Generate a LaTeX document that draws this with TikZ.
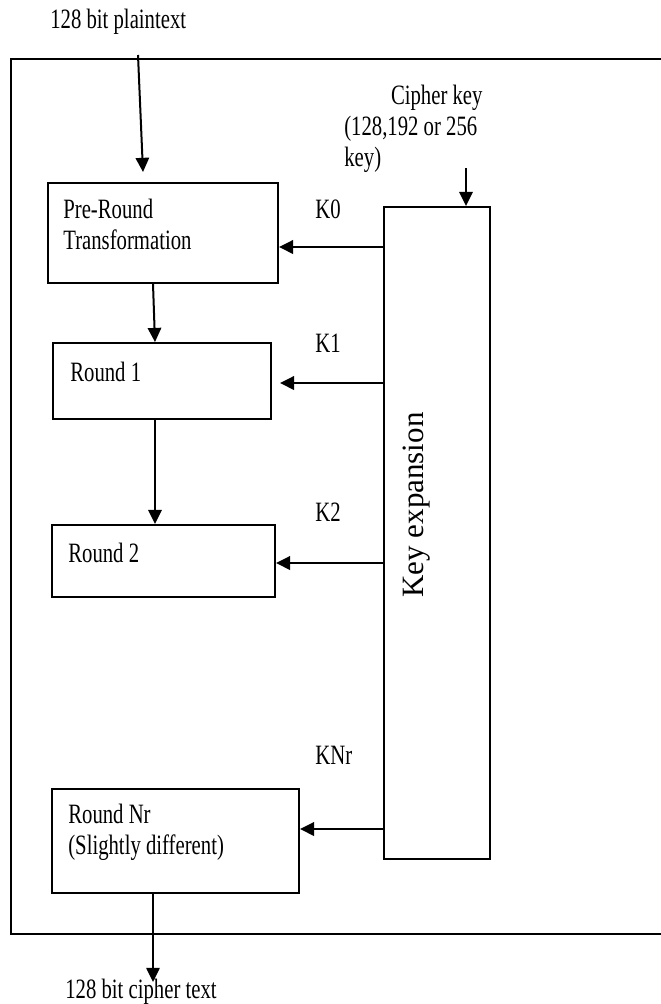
\documentclass[tikz,border=0pt]{standalone}
\usepackage{fontspec}
\setmainfont{Liberation Serif}[FakeStretch=0.74]
\newfontfamily\keyfont{Liberation Serif}
\usetikzlibrary{arrows.meta, positioning, calc, fit}

\begin{document}
\begin{tikzpicture}[x=0.6pt, y=-0.6pt,
    font=\fontsize{16.8}{18.5}\selectfont,
    blk/.style={draw, line width=1.1pt, inner sep=0pt},
    lbl/.style={anchor=west, align=left, inner sep=0pt},
    flow/.style={line width=1.2pt, -{Triangle[length=8.5pt,width=8pt]}},
    keyflow/.style={line width=1.6pt, -{Triangle[length=8.5pt,width=8pt]}}]
  \useasboundingbox (0,0) rectangle (661,1004);
  % Outer frame (right side runs off the page)
  \draw[line width=1.1pt] (661,59) -- (11,59) -- (11,934) -- (661,934);
  % Blocks
  \node[blk, fit={(48,183) (278,283)}] (pre) {};
  \node[blk, fit={(53,343) (271,419)}] (r1) {};
  \node[blk, fit={(52,525) (275,597)}] (r2) {};
  \node[blk, fit={(52,789) (299,893)}] (rnr) {};
  \node[blk, fit={(384,207) (490,859)}] (keyexp) {};
  % Block texts
  \node[lbl] (pretxt) at (63,224) {Pre-Round\\Transformation};
  \node[lbl] (r1txt) at (70,372) {Round 1};
  \node[lbl] (r2txt) at (68,553) {Round 2};
  \node[lbl] (rnrtxt) at (68,832) {Round Nr\\(Slightly different)};
  \node[rotate=90, font=\keyfont\fontsize{18.6}{22}\selectfont] (keytxt)
    at (417,505) {Key expansion};
  % Inputs and outputs
  \node[lbl] (plain) at (50,22) {128 bit plaintext};
  \node[lbl] (ctext) at (65,992) {128 bit cipher text};
  \node[lbl] (ckey) at (344,129) {\hspace*{28pt}Cipher key\\(128,192 or 256\\key)};
  \coordinate (ptin) at (138,55);
  \coordinate (ptout) at (143,172);
  \coordinate (keyin) at (466,168);
  \coordinate (ctout) at (153,982);
  \draw[flow] (ptin) -- (ptout);
  \draw[flow] (keyin) -- (keyin |- keyexp.north);
  \draw[flow] ([xshift=-6pt]pre.south) -- ([xshift=-4.2pt]r1.north);
  \draw[flow] ([xshift=-4.2pt]r1.south) -- ([xshift=-5.1pt]r2.north);
  \draw[flow] (ctout |- rnr.south) -- (ctout);
  % Round keys
  \coordinate (k0) at (0,247);
  \coordinate (k1) at (0,383);
  \coordinate (k2) at (0,563);
  \coordinate (knr) at (0,829);
  \node[lbl] (k0txt) at (315,209) {K0};
  \node[lbl] (k1txt) at (315,343) {K1};
  \node[lbl] (k2txt) at (315,512) {K2};
  \node[lbl] (knrtxt) at (315,755) {KNr};
  \draw[keyflow] (keyexp.west |- k0) -- (pre.east |- k0);
  \draw[keyflow] (keyexp.west |- k1) -- ($(r1.east |- k1)+(8,0)$);
  \draw[keyflow] (keyexp.west |- k2) -- (r2.east |- k2);
  \draw[keyflow] (keyexp.west |- knr) -- (rnr.east |- knr);
\end{tikzpicture}
\end{document}
